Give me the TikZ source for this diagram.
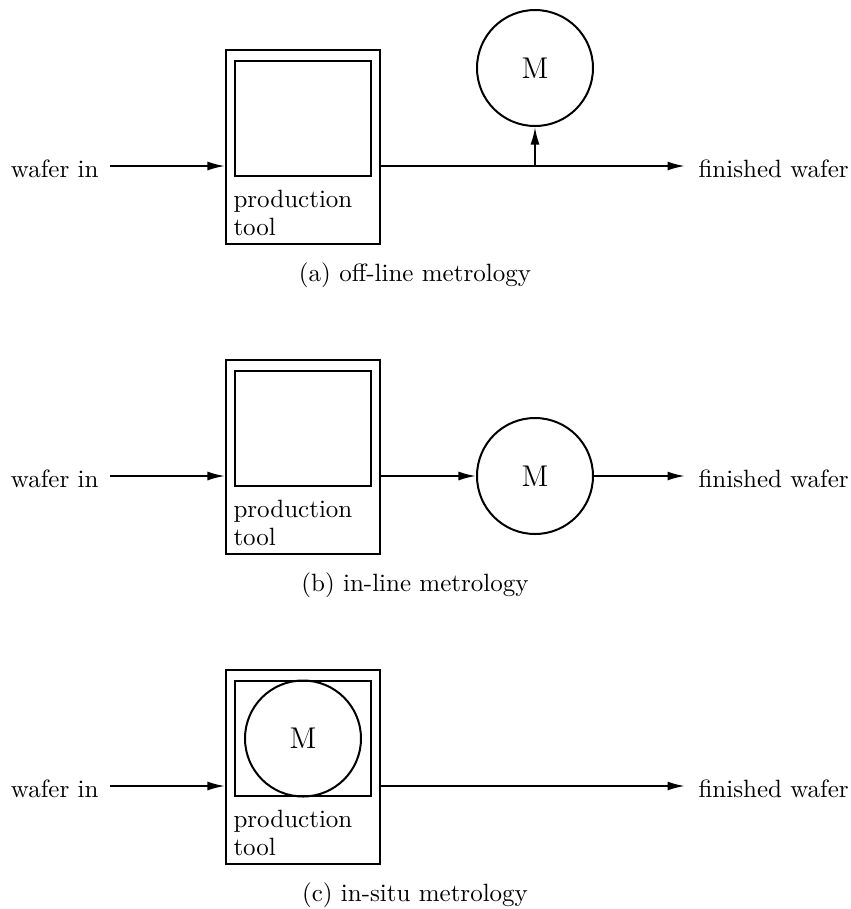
\documentclass[tikz,border=0pt]{standalone}
\usetikzlibrary{arrows.meta}
\begin{document}
\begin{tikzpicture}[x=0.4pt,y=-0.4pt,
  outer/.style={draw, line width=0.8pt, minimum width=61.6pt, minimum height=77.6pt, inner sep=0pt},
  inner/.style={draw, line width=0.95pt, minimum width=54.4pt, minimum height=46pt, inner sep=0pt},
  meas/.style={draw, circle, line width=0.8pt, minimum size=46.4pt, inner sep=0pt, font=\large},
  lbl/.style={inner sep=0pt, font=\fontsize{10}{11.2}\selectfont},
  arr/.style={line width=0.8pt, -{Latex[length=7pt,width=3.6pt]}},
  ln/.style={line width=0.8pt}]
\useasboundingbox (0,0) rectangle (851,909);

% ---------- (a) off-line ----------
\coordinate (yA) at (0,166);
\node[outer] (toolA) at (303,147) {};
\node[inner] (boxA) at (303,118.5) {};
\node[lbl, anchor=north west, align=left] (ptA) at (233,190) {production\\tool};
\node[lbl, anchor=base east] (winA) at (99,177) {wafer in};
\node[lbl, anchor=base west] (fwA) at (698,177) {finished wafer};
\node[meas] (mA) at (535,68) {M};
\draw[arr] (winA.east |- yA) ++(11,0) -- (toolA.west |- yA);
\draw[arr, shorten >=5.2pt] (toolA.east |- yA) -- (fwA.west |- yA);
\draw[arr] (mA.south |- yA) -- (mA.south);
\node[lbl, anchor=base] (capA) at (415,281) {(a) off-line metrology};

% ---------- (b) in-line ----------
\coordinate (yB) at (0,476);
\node[outer] (toolB) at (303,457) {};
\node[inner] (boxB) at (303,428.5) {};
\node[lbl, anchor=north west, align=left] (ptB) at (233,500) {production\\tool};
\node[lbl, anchor=base east] (winB) at (99,487) {wafer in};
\node[lbl, anchor=base west] (fwB) at (698,487) {finished wafer};
\node[meas] (mB) at (535,476) {M};
\draw[arr] (winB.east |- yB) ++(11,0) -- (toolB.west |- yB);
\draw[arr] (toolB.east |- yB) -- (mB.west);
\draw[arr, shorten >=5.2pt] (mB.east) -- (fwB.west |- yB);
\node[lbl, anchor=base] (capB) at (415,591) {(b) in-line metrology};

% ---------- (c) in-situ ----------
\coordinate (yC) at (0,786);
\node[outer] (toolC) at (303,767) {};
\node[inner] (boxC) at (303,738.5) {};
\node[meas] (mC) at (303,738.5) {M};
\node[lbl, anchor=north west, align=left] (ptC) at (233,810) {production\\tool};
\node[lbl, anchor=base east] (winC) at (99,797) {wafer in};
\node[lbl, anchor=base west] (fwC) at (698,797) {finished wafer};
\draw[arr] (winC.east |- yC) ++(11,0) -- (toolC.west |- yC);
\draw[arr, shorten >=5.2pt] (toolC.east |- yC) -- (fwC.west |- yC);
\node[lbl, anchor=base] (capC) at (415,901) {(c) in-situ metrology};
\end{tikzpicture}
\end{document}
